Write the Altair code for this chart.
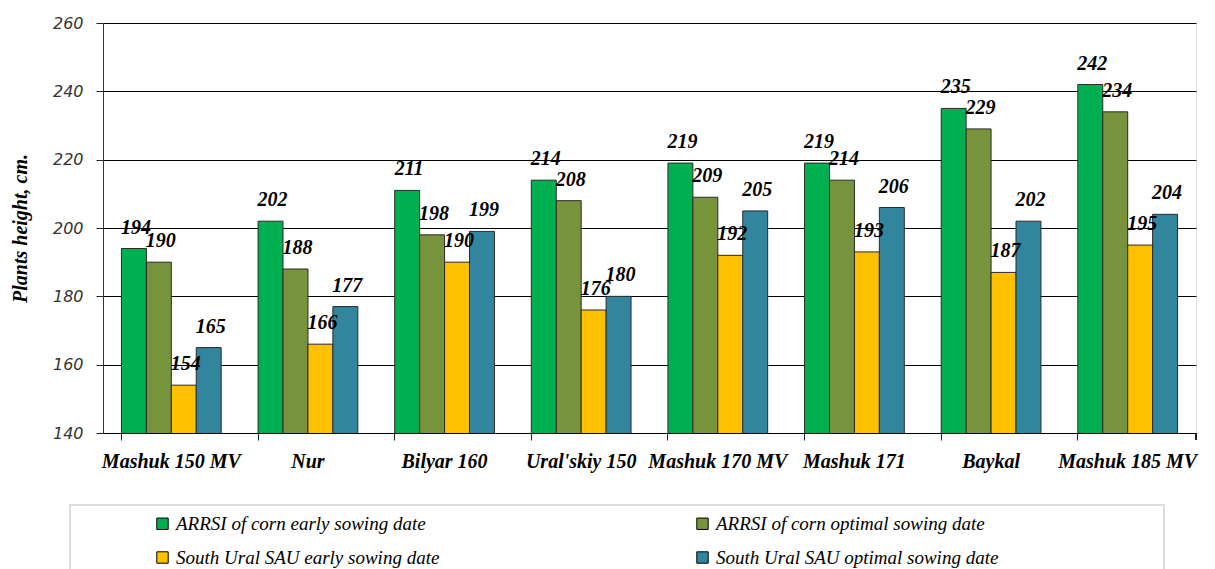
import altair as alt
import pandas as pd

varieties = ["Mashuk 150 MV", "Nur", "Bilyar 160", "Ural'skiy 150",
             "Mashuk 170 MV", "Mashuk 171", "Baykal", "Mashuk 185 MV"]
series = ["ARRSI of corn early sowing date", "ARRSI of corn optimal sowing date",
          "South Ural SAU early sowing date", "South Ural SAU optimal sowing date"]
arrsi_early = [194, 202, 211, 214, 219, 219, 235, 242]
arrsi_optimal = [190, 188, 198, 208, 209, 214, 229, 234]
sau_early = [154, 166, 190, 176, 192, 193, 187, 195]
sau_optimal = [165, 177, 199, 180, 205, 206, 202, 204]
colors = ["#00B050", "#77933C", "#FFC000", "#31859C"]
y_ticks = [140, 160, 180, 200, 220, 240, 260]

rows = []
for s, vals in zip(series, [arrsi_early, arrsi_optimal, sau_early, sau_optimal]):
    for v, h in zip(varieties, vals):
        rows.append({"variety": v, "series": s, "height": h})
df = pd.DataFrame(rows)

x_enc = alt.X("variety:N", sort=varieties,
              scale=alt.Scale(paddingInner=0.27, paddingOuter=0.135),
              axis=alt.Axis(title=None, bandPosition=0, labelAngle=0,
                            labelFont="Liberation Serif", labelFontStyle="italic",
                            labelFontWeight="bold", labelFontSize=20, labelColor="#000",
                            labelPadding=11, tickSize=7, tickColor="#222",
                            domainColor="#000", grid=False))
xoff = alt.XOffset("series:N", sort=series, scale=alt.Scale(paddingInner=0, paddingOuter=0))
y_enc = alt.Y("height:Q", scale=alt.Scale(domain=[140, 260], nice=False),
              axis=alt.Axis(title="Plants height, cm.", values=y_ticks,
                            titleFont="Liberation Serif", titleFontStyle="italic",
                            titleFontWeight="bold", titleFontSize=20, titleColor="#000",
                            titlePadding=22,
                            labelFont="DejaVu Sans", labelFontStyle="italic",
                            labelFontSize=16, labelColor="#333", labelPadding=13,
                            tickSize=7, tickColor="#222", domainColor="#333",
                            grid=True, gridColor="#000", gridOpacity=1, gridWidth=1))

bars = alt.Chart(df).mark_bar(stroke="#2a2a2a", strokeWidth=1, clip=True).encode(
    x=x_enc, xOffset=xoff, y=y_enc,
    color=alt.Color("series:N", sort=series,
                    scale=alt.Scale(domain=series, range=colors),
                    legend=alt.Legend(title=None, orient="none", legendX=50, legendY=491,
                                      columns=2, columnPadding=253, rowPadding=14,
                                      direction="horizontal",
                                      symbolType="square", symbolSize=130,
                                      symbolStrokeColor="#000", symbolStrokeWidth=1,
                                      labelFont="Liberation Serif", labelFontStyle="italic",
                                      labelFontSize=19, labelColor="#000", labelLimit=400,
                                      labelOffset=4))
)

labels = alt.Chart(df).mark_text(font="Liberation Serif", fontStyle="italic",
                                 fontWeight="bold", fontSize=20, color="#000",
                                 baseline="middle", dy=-21, dx=2).encode(
    x=alt.X("variety:N", sort=varieties), xOffset=xoff,
    y=alt.Y("height:Q"), text=alt.Text("height:Q")
)

frame = alt.Chart(df).mark_rect(fill=None, stroke="#dcdcdc", strokeWidth=2).encode(
    x=alt.value(-33), x2=alt.value(1061), y=alt.value(482), y2=alt.value(560)
)

end_tick = alt.Chart(df).mark_rule(color="#222", strokeWidth=1).encode(
    x=alt.value(1093), y=alt.value(410), y2=alt.value(417)
)

chart = alt.layer(bars, labels, frame, end_tick).properties(
    width=1093, height=410,
    padding={"left": 103, "top": 23, "right": 19, "bottom": 136},
    autosize=alt.AutoSizeParams(type="none"),
).configure_view(stroke="#999", strokeWidth=1).configure(background="white")

chart.save("out.html", embed_options={"renderer": "svg", "actions": False})
